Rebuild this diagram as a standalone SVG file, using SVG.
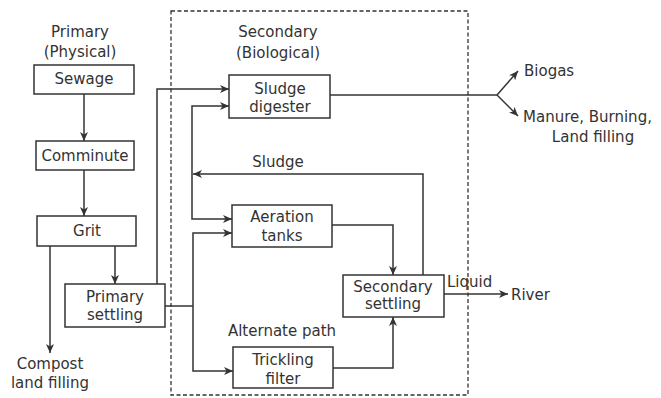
<svg xmlns="http://www.w3.org/2000/svg" width="661" height="398" viewBox="0 0 661 398">
<defs>
<style>
.box{fill:#fff;stroke:#333;stroke-width:1.5}
.ln{fill:none;stroke:#333;stroke-width:1.5}
.arr{fill:none;stroke:#333;stroke-width:1.5;marker-end:url(#ah)}
.t{font-family:"DejaVu Sans",sans-serif;font-size:15px;fill:#333;text-anchor:middle;dominant-baseline:central}
.tl{text-anchor:start}
</style>
<marker id="ah" markerWidth="10" markerHeight="8" refX="9" refY="4" orient="auto" markerUnits="userSpaceOnUse">
<path d="M0,0 L9,4 L0,8 L2.5,4 z" fill="#333"/>
</marker>
</defs>
<rect width="661" height="398" fill="#fff"/>
<rect x="171" y="11" width="297" height="384" fill="none" stroke="#333" stroke-width="1.3" stroke-dasharray="4,2.5"/>
<text class="t" x="80" y="32">Primary</text>
<text class="t" x="80" y="52">(Physical)</text>
<text class="t" x="278" y="32">Secondary</text>
<text class="t" x="278" y="53">(Biological)</text>
<g id="connectors">
<path class="arr" d="M84,94 V141"/>
<path class="arr" d="M84,170 V216"/>
<path class="arr" d="M115,246 V284"/>
<path class="arr" d="M50,246 V353"/>
<path class="arr" d="M157,284 V89 H229"/>
<path class="ln" d="M165,306 H193"/>
<path class="arr" d="M193,306 V233 H232"/>
<path class="arr" d="M193,306 V371 H233"/>
<path class="arr" d="M192,174 V106 H229"/>
<path class="arr" d="M192,174 V219 H232"/>
<path class="arr" d="M423,275 V174 H193"/>
<path class="arr" d="M332,225 H393 V275"/>
<path class="arr" d="M333,368 H393 V317"/>
<path class="arr" d="M444,294 H508"/>
<path class="ln" d="M330,95 H497"/>
<path class="arr" d="M497,95 L518,71"/>
<path class="arr" d="M497,95 L518,116"/>
</g>
<g id="sewage"><rect class="box" x="34" y="65" width="100" height="29"/><text class="t" x="84" y="79">Sewage</text></g>
<g id="comminute"><rect class="box" x="36" y="141" width="98" height="29"/><text class="t" x="85" y="156">Comminute</text></g>
<g id="grit"><rect class="box" x="37" y="216" width="99" height="30"/><text class="t" x="87" y="231">Grit</text></g>
<g id="primary-settling"><rect class="box" x="65" y="284" width="100" height="43"/><text class="t" x="115" y="297">Primary</text><text class="t" x="115" y="315">settling</text></g>
<g id="compost"><text class="t" x="50" y="364">Compost</text><text class="t" x="50" y="383">land filling</text></g>
<g id="sludge-digester"><rect class="box" x="229" y="75" width="101" height="43"/><text class="t" x="280" y="89">Sludge</text><text class="t" x="280" y="107">digester</text></g>
<g id="aeration"><rect class="box" x="232" y="205" width="100" height="42"/><text class="t" x="282" y="217">Aeration</text><text class="t" x="282" y="236">tanks</text></g>
<g id="trickling"><rect class="box" x="233" y="347" width="100" height="41"/><text class="t" x="283" y="360">Trickling</text><text class="t" x="283" y="379">filter</text></g>
<g id="secondary-settling"><rect class="box" x="343" y="275" width="101" height="42"/><text class="t" x="393" y="287">Secondary</text><text class="t" x="393" y="304">settling</text></g>
<text class="t" x="278" y="162">Sludge</text>
<text class="t" x="282" y="331">Alternate path</text>
<text class="t tl" x="447" y="282">Liquid</text>
<g id="river"><text class="t tl" x="511" y="295">River</text></g>
<g id="biogas"><text class="t tl" x="524" y="71">Biogas</text></g>
<g id="manure"><text class="t tl" x="523" y="117">Manure, Burning,</text><text class="t" x="593" y="137">Land filling</text></g>
</svg>
